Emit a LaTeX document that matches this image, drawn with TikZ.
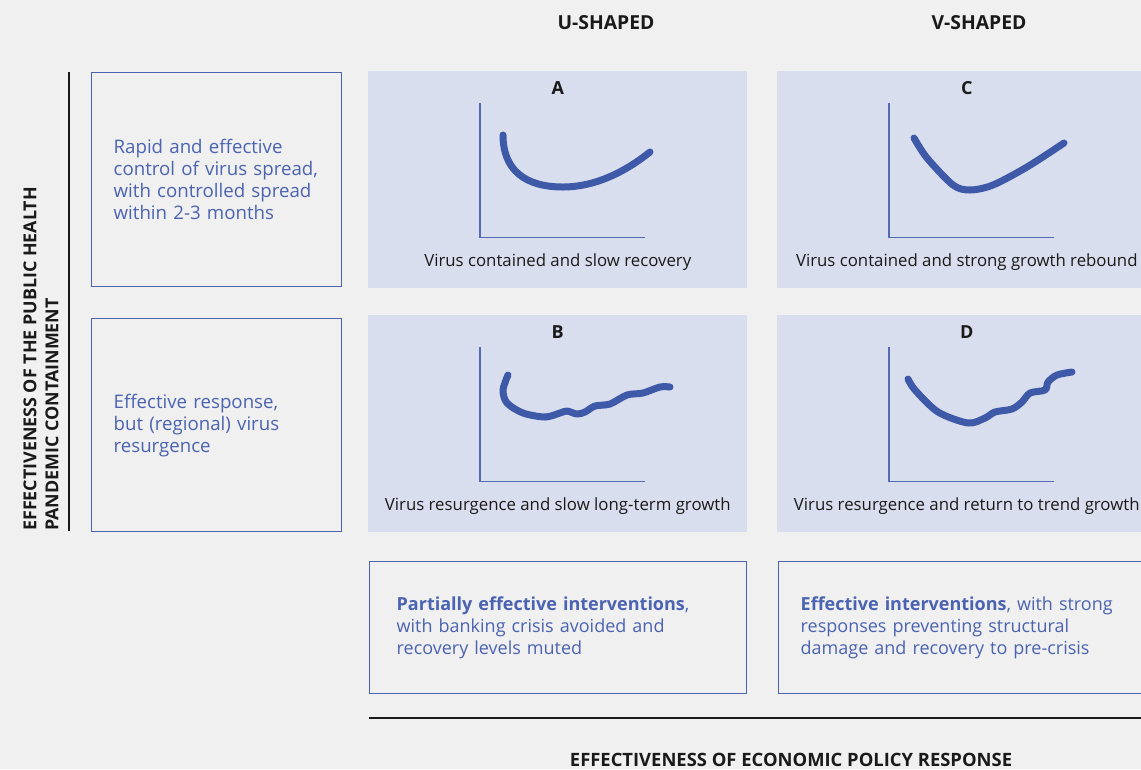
\documentclass[tikz,border=0pt]{standalone}
\usepackage{fontspec}
\setmainfont{Open Sans}
\usetikzlibrary{positioning, calc}
\definecolor{pagegray}{RGB}{240,240,240}
\definecolor{panelblue}{RGB}{217,222,238}
\definecolor{textblue}{RGB}{75,99,176}
\definecolor{curveblue}{RGB}{62,89,168}
\definecolor{axisblue}{RGB}{84,106,178}
\definecolor{inkblack}{RGB}{26,26,26}

\begin{document}
\begin{tikzpicture}[x=0.75pt, y=-0.75pt,
    panel/.style={fill=panelblue, anchor=north west, minimum width=284.25pt, minimum height=162.75pt, inner sep=0pt},
    outline/.style={draw=textblue, line width=1pt, anchor=north west, text=textblue, align=left,
        font=\fontsize{14}{16.5}\selectfont},
    letter/.style={font=\bfseries\fontsize{13.5}{15}\selectfont, text=inkblack},
    caption/.style={font=\fontsize{12.6}{14}\selectfont, text=inkblack},
    header/.style={font=\bfseries\fontsize{14.5}{16}\selectfont, text=inkblack},
    sidelabel/.style={font=\bfseries\fontsize{13.4}{16.5}\selectfont, text=inkblack, align=left, inner sep=0pt},
    axis/.style={draw=axisblue, line width=0.9pt},
    curve/.style={draw=curveblue, line width=5.25pt, line cap=round, line join=round}]
    % Canvas
    \clip (0,0) rectangle (1141,769);
    \fill[pagegray] (0,0) rectangle (1141,769);

    % Column headers
    \node[header] (uhead) at (606,23) {U-SHAPED};
    \node[header] (vhead) at (979,23) {V-SHAPED};

    % Vertical axis label
    \draw[inkblack, line width=1.1pt] (69,72) -- (69,531);
    \node[sidelabel, rotate=90, anchor=west] (healthlabel) at (41,531)
        {EFFECTIVENESS OF THE PUBLIC HEALTH\\PANDEMIC CONTAINMENT};

    % Row descriptions
    \node[outline, minimum height=160.5pt, text width=154.5pt, inner xsep=16.5pt] (rowtop) at (91,72)
        {Rapid and effective\\control of virus spread,\\with controlled spread\\within 2-3 months};
    \node[outline, minimum height=159.75pt, text width=154.5pt, inner xsep=16.5pt] (rowbottom) at (91,318)
        {Effective response,\\but (regional) virus\\resurgence};

    % Scenario panels
    \foreach \pn/\px/\py/\pcap in {A/368/71/{Virus contained and slow recovery},
                                   C/777/71/{Virus contained and strong growth rebound},
                                   B/368/315/{Virus resurgence and slow long-term growth},
                                   D/777/315/{Virus resurgence and return to trend growth}} {
        \node[panel] (panel\pn) at (\px,\py) {};
        \node[letter] (letter\pn) at ($(panel\pn.north)+(0,17)$) {\pn};
        \node[caption] (caption\pn) at ($(panel\pn.south)+(0,-26)$) {\pcap};
        \coordinate (origin\pn) at ($(panel\pn.south west)+(112,-51)$);
        \draw[axis] ($(origin\pn)+(0,-135)$) -- (origin\pn) -- ($(origin\pn)+(165,0)$);
    }

    % Recovery curves
    \draw[curve] (503,135) .. controls (503,170) and (525,187) .. (563,187)
        .. controls (595,187) and (625,172) .. (650,152);
    \draw[curve] plot[smooth] coordinates {(914,138) (927,158) (953,185) (970,190) (993,185) (1027,167) (1064,143)};
    \draw[curve] plot[smooth] coordinates {(508,375) (503,390) (507,403) (523,413) (545,417) (560,413) (567,411)
        (577,414) (585,412) (595,406) (610,404) (627,395) (643,393) (660,387) (670,387)};
    \draw[curve] plot[smooth] coordinates {(908,379) (915,390) (938,412) (968,423) (985,418) (995,412) (1012,409)
        (1022,402) (1030,393) (1045,390) (1048,382) (1057,375) (1072,372)};

    % Policy responses
    \node[outline, font=\fontsize{13.5}{16.5}\selectfont, minimum height=99pt, text width=242.25pt, inner xsep=20.25pt] (partial) at (369,561)
        {\textbf{Partially effective interventions},\\with banking crisis avoided and\\recovery levels muted\\[-4.5pt]};
    \node[outline, font=\fontsize{13.5}{16.5}\selectfont, minimum height=99pt, text width=249.75pt, inner xsep=16.5pt] (effective) at (778,561)
        {\textbf{Effective interventions}, with strong\\responses preventing structural\\damage and recovery to pre-crisis\\[-4.5pt]};

    % Horizontal axis label
    \draw[inkblack, line width=1.1pt] (369,718) -- (1141,718);
    \node[header, font=\bfseries\fontsize{13.8}{15}\selectfont] (policylabel) at (791,760)
        {EFFECTIVENESS OF ECONOMIC POLICY RESPONSE};
\end{tikzpicture}
\end{document}
